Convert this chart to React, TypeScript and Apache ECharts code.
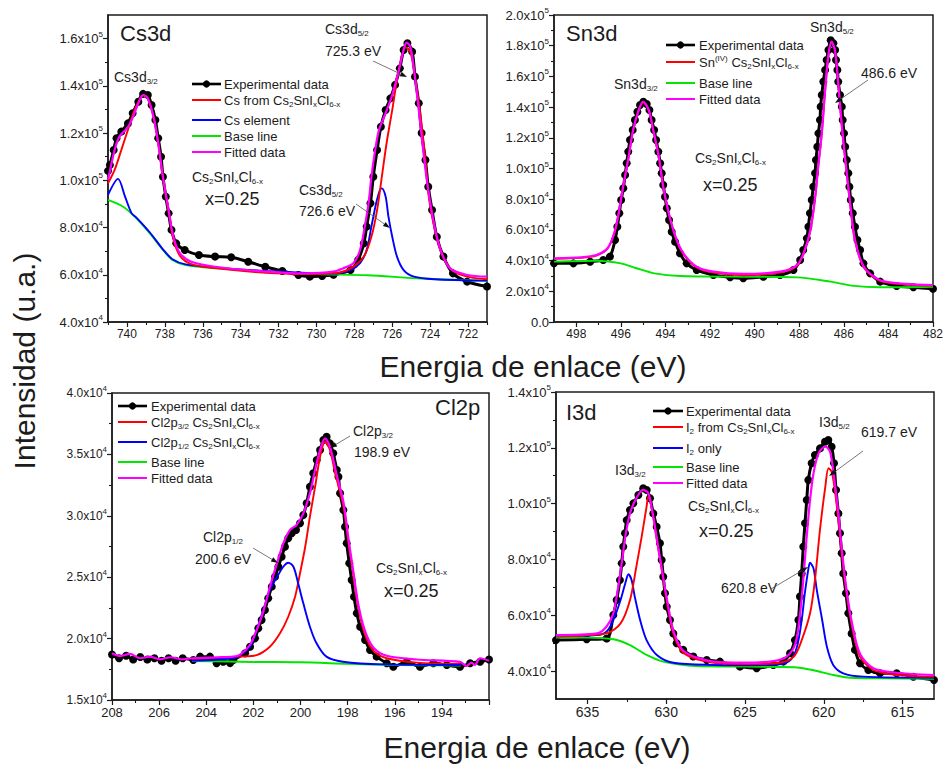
import React, { useEffect, useRef } from 'react';
import * as echarts from 'echarts';

const F = "'Liberation Sans', Arial, Helvetica, sans-serif";
const INK = '#1c1c1c';
const RED = '#ff0000';
const BLUE = '#0000ff';
const GREEN = '#00e600';
const MAG = '#ff00ff';

// ---------------- Cs3d ----------------
const csExp = [[741.0, 1.04e5], [740.9, 1.065e5], [740.7, 1.128e5], [740.55, 1.178e5], [740.3, 1.206e5], [739.95, 1.241e5], [739.7, 1.284e5], [739.4, 1.333e5], [739.15, 1.366e5], [738.9, 1.361e5], [738.7, 1.319e5], [738.5, 1.255e5], [738.35, 1.178e5], [738.2, 1.1e5], [738.1, 1.015e5], [737.95, 9.31e4], [737.8, 8.6e4], [737.65, 7.9e4], [737.4, 7.33e4], [736.95, 7.05e4], [736.2, 6.84e4], [735.35, 6.77e4], [734.5, 6.74e4], [733.6, 6.55e4], [732.7, 6.34e4], [731.8, 6.16e4], [730.95, 5.99e4], [730.35, 5.92e4], [729.7, 5.95e4], [729.1, 6.0e4], [728.2, 6.2e4], [727.8, 6.63e4], [727.5, 7.33e4], [727.35, 8.04e4], [727.15, 9.03e4], [727.0, 1.015e5], [726.8, 1.128e5], [726.6, 1.227e5], [726.35, 1.298e5], [726.1, 1.347e5], [725.85, 1.404e5], [725.6, 1.474e5], [725.4, 1.552e5], [725.2, 1.58e5], [724.95, 1.545e5], [724.8, 1.439e5], [724.6, 1.326e5], [724.45, 1.2e5], [724.25, 1.086e5], [724.1, 9.73e4], [723.9, 8.74e4], [723.65, 7.61e4], [723.3, 6.77e4], [722.8, 6.06e4], [722.05, 5.71e4], [721.0, 5.5e4]];
const csRed = [[741.0, 9.87e4], [740.65, 1.044e5], [740.3, 1.128e5], [739.95, 1.213e5], [739.6, 1.298e5], [739.25, 1.354e5], [739.1, 1.36e5], [738.9, 1.345e5], [738.6, 1.268e5], [738.35, 1.155e5], [738.1, 1.01e5], [737.8, 8.65e4], [737.55, 7.5e4], [737.2, 6.8e4], [736.6, 6.45e4], [735.35, 6.28e4], [733.25, 6.12e4], [730.6, 6.03e4], [729.1, 6.06e4], [728.2, 6.27e4], [727.5, 6.77e4], [727.1, 7.61e4], [726.8, 8.74e4], [726.55, 1.015e5], [726.3, 1.157e5], [726.0, 1.298e5], [725.75, 1.425e5], [725.5, 1.524e5], [725.3, 1.563e5], [725.05, 1.545e5], [724.8, 1.439e5], [724.5, 1.27e5], [724.25, 1.086e5], [724.05, 9.17e4], [723.75, 7.9e4], [723.4, 6.91e4], [722.85, 6.2e4], [722.05, 5.92e4], [721.0, 5.81e4]];
const csBlue = [[741.0, 9.38e4], [740.47, 1.006e5], [740.1, 9.31e4], [739.75, 8.6e4], [739.5, 8.42e4], [738.8, 7.8e4], [738.1, 7.08e4], [737.6, 6.66e4], [736.9, 6.44e4], [735.3, 6.3e4], [732.6, 6.16e4], [730.0, 6.06e4], [729.1, 6.05e4], [728.2, 6.2e4], [727.7, 6.49e4], [727.35, 7.05e4], [727.1, 8.04e4], [726.85, 9.03e4], [726.65, 9.59e4], [726.55, 9.66e4], [726.35, 9.31e4], [726.2, 8.46e4], [726.0, 7.61e4], [725.75, 6.77e4], [725.4, 6.2e4], [724.85, 5.92e4], [723.8, 5.81e4], [721.0, 5.75e4]];
const csBase = [[741.0, 9.17e4], [740.2, 8.88e4], [739.5, 8.39e4], [738.8, 7.76e4], [738.1, 7.05e4], [737.6, 6.63e4], [736.9, 6.41e4], [735.3, 6.27e4], [732.6, 6.13e4], [730.0, 6.03e4], [727.3, 5.98e4], [724.7, 5.85e4], [721.4, 5.75e4], [721.0, 5.74e4]];
const csFit = [[741.0, 1.0e5], [740.65, 1.128e5], [740.4, 1.185e5], [740.0, 1.22e5], [739.75, 1.255e5], [739.4, 1.326e5], [739.15, 1.361e5], [738.9, 1.347e5], [738.6, 1.27e5], [738.35, 1.157e5], [738.1, 1.015e5], [737.8, 8.74e4], [737.55, 7.61e4], [737.2, 6.91e4], [736.6, 6.55e4], [735.35, 6.34e4], [733.25, 6.17e4], [730.6, 6.06e4], [729.1, 6.13e4], [728.6, 6.27e4], [728.05, 6.49e4], [727.7, 7.05e4], [727.45, 8.04e4], [727.25, 9.03e4], [727.1, 1.015e5], [726.9, 1.128e5], [726.7, 1.213e5], [726.35, 1.284e5], [726.0, 1.361e5], [725.65, 1.467e5], [725.4, 1.552e5], [725.25, 1.583e5], [725.05, 1.566e5], [724.85, 1.467e5], [724.6, 1.298e5], [724.35, 1.114e5], [724.1, 9.59e4], [723.8, 8.18e4], [723.45, 7.05e4], [722.95, 6.27e4], [722.05, 5.99e4], [721.0, 5.92e4]];

// ---------------- Sn3d ----------------
const snExp = [[499, 3.82e4], [498.13, 3.82e4], [497.38, 3.93e4], [496.79, 4.04e4], [496.49, 4.26e4], [496.26, 5.34e4], [496.16, 6.21e4], [496.07, 7.08e4], [495.99, 7.95e4], [495.89, 8.71e4], [495.81, 9.58e4], [495.74, 1.034e5], [495.67, 1.11e5], [495.59, 1.186e5], [495.47, 1.251e5], [495.37, 1.316e5], [495.26, 1.37e5], [495.14, 1.414e5], [494.99, 1.435e5], [494.84, 1.42e5], [494.72, 1.381e5], [494.62, 1.316e5], [494.51, 1.251e5], [494.42, 1.186e5], [494.32, 1.11e5], [494.24, 1.034e5], [494.17, 9.69e4], [494.1, 8.93e4], [494.02, 8.16e4], [493.94, 7.41e4], [493.84, 6.65e4], [493.72, 5.88e4], [493.57, 5.23e4], [493.35, 4.48e4], [493.05, 3.82e4], [492.6, 3.39e4], [491.85, 3.06e4], [491.1, 2.91e4], [490.51, 2.85e4], [489.61, 2.95e4], [488.86, 3.06e4], [488.26, 3.39e4], [487.96, 4.04e4], [487.82, 4.69e4], [487.66, 5.45e4], [487.59, 6.21e4], [487.52, 7.08e4], [487.44, 7.95e4], [487.37, 8.81e4], [487.29, 9.69e4], [487.25, 1.055e5], [487.19, 1.142e5], [487.14, 1.229e5], [487.07, 1.316e5], [487.04, 1.403e5], [486.99, 1.479e5], [486.92, 1.566e5], [486.84, 1.642e5], [486.77, 1.707e5], [486.69, 1.772e5], [486.59, 1.836e5], [486.47, 1.816e5], [486.39, 1.772e5], [486.35, 1.707e5], [486.29, 1.642e5], [486.25, 1.566e5], [486.17, 1.479e5], [486.09, 1.403e5], [486.05, 1.316e5], [485.99, 1.229e5], [485.94, 1.142e5], [485.87, 1.055e5], [485.8, 9.69e4], [485.75, 8.81e4], [485.69, 7.95e4], [485.6, 7.08e4], [485.5, 6.21e4], [485.39, 5.34e4], [485.27, 4.69e4], [485.12, 3.82e4], [484.82, 3.17e4], [484.37, 2.63e4], [483.63, 2.35e4], [482.88, 2.26e4], [482.0, 2.17e4]];
const snRed = [[499, 4.12e4], [497.8, 4.18e4], [497.1, 4.33e4], [496.6, 4.78e4], [496.3, 5.76e4], [496.1, 7.06e4], [495.9, 8.8e4], [495.65, 1.076e5], [495.45, 1.25e5], [495.2, 1.38e5], [495.0, 1.432e5], [494.75, 1.379e5], [494.55, 1.249e5], [494.3, 1.075e5], [494.1, 8.79e4], [493.85, 7.05e4], [493.55, 5.52e4], [493.2, 4.43e4], [492.6, 3.55e4], [491.85, 3.22e4], [490.5, 3.05e4], [488.85, 3.22e4], [488.1, 3.66e4], [487.75, 4.65e4], [487.5, 5.96e4], [487.3, 7.92e4], [487.15, 1.01e5], [486.99, 1.227e5], [486.85, 1.488e5], [486.7, 1.725e5], [486.55, 1.822e5], [486.4, 1.768e5], [486.25, 1.552e5], [486.1, 1.29e5], [485.9, 1.008e5], [485.7, 7.47e4], [485.5, 5.3e4], [485.1, 3.55e4], [484.4, 2.7e4], [483.2, 2.44e4], [482, 2.37e4]];
const snBase = [[499, 3.93e4], [497.1, 3.99e4], [496.0, 3.82e4], [495.3, 3.5e4], [494.5, 3.17e4], [493.35, 3.0e4], [490.35, 2.95e4], [488.1, 2.91e4], [486.6, 2.63e4], [485.55, 2.35e4], [484.4, 2.26e4], [482, 2.3e4]];
const snFit = [[499, 4.15e4], [497.8, 4.21e4], [497.1, 4.36e4], [496.6, 4.8e4], [496.3, 5.78e4], [496.1, 7.08e4], [495.9, 8.81e4], [495.65, 1.077e5], [495.45, 1.251e5], [495.2, 1.381e5], [495.0, 1.435e5], [494.75, 1.381e5], [494.55, 1.251e5], [494.3, 1.077e5], [494.1, 8.81e4], [493.85, 7.08e4], [493.55, 5.56e4], [493.2, 4.48e4], [492.6, 3.6e4], [491.85, 3.28e4], [490.5, 3.13e4], [488.85, 3.28e4], [488.1, 3.71e4], [487.75, 4.69e4], [487.5, 5.99e4], [487.3, 7.95e4], [487.15, 1.012e5], [486.99, 1.229e5], [486.85, 1.49e5], [486.7, 1.728e5], [486.55, 1.826e5], [486.4, 1.772e5], [486.25, 1.555e5], [486.1, 1.294e5], [485.9, 1.012e5], [485.7, 7.51e4], [485.5, 5.34e4], [485.1, 3.6e4], [484.4, 2.74e4], [483.2, 2.48e4], [482, 2.41e4]];

// ---------------- Cl2p ----------------
const clExp = [[208, 1.87e4], [207.7, 1.84e4], [207.4, 1.86e4], [207.1, 1.83e4], [206.8, 1.85e4], [206.5, 1.83e4], [206.2, 1.84e4], [205.9, 1.82e4], [205.6, 1.84e4], [205.3, 1.82e4], [205.0, 1.84e4], [204.55, 1.826e4], [204.26, 1.853e4], [203.84, 1.853e4], [203.56, 1.799e4], [203.28, 1.812e4], [202.99, 1.8e4], [202.85, 1.826e4], [202.35, 1.88e4], [202.14, 1.934e4], [201.93, 2.002e4], [201.79, 2.084e4], [201.65, 2.151e4], [201.51, 2.233e4], [201.37, 2.328e4], [201.22, 2.423e4], [201.08, 2.504e4], [200.94, 2.585e4], [200.8, 2.667e4], [200.66, 2.748e4], [200.52, 2.817e4], [200.37, 2.857e4], [200.19, 2.884e4], [200.02, 2.939e4], [199.88, 3.006e4], [199.74, 3.102e4], [199.6, 3.237e4], [199.46, 3.346e4], [199.31, 3.454e4], [199.17, 3.536e4], [199.03, 3.617e4], [198.89, 3.644e4], [198.75, 3.59e4], [198.61, 3.509e4], [198.46, 3.373e4], [198.39, 3.318e4], [198.32, 3.183e4], [198.18, 3.047e4], [198.11, 2.911e4], [198.04, 2.776e4], [197.93, 2.613e4], [197.83, 2.477e4], [197.73, 2.341e4], [197.61, 2.206e4], [197.47, 2.097e4], [197.26, 1.989e4], [197.05, 1.907e4], [196.77, 1.853e4], [196.34, 1.799e4], [196.06, 1.771e4], [195.49, 1.812e4], [194.93, 1.771e4], [194.36, 1.799e4], [193.79, 1.785e4], [193.23, 1.771e4], [192.8, 1.799e4], [192.38, 1.812e4], [192.0, 1.83e4]];
const clRed = [[204.6, 1.83e4], [203.5, 1.838e4], [202.56, 1.853e4], [201.86, 1.866e4], [201.3, 1.934e4], [200.87, 2.043e4], [200.52, 2.178e4], [200.23, 2.341e4], [200.02, 2.532e4], [199.8, 2.748e4], [199.6, 2.993e4], [199.38, 3.237e4], [199.17, 3.481e4], [198.96, 3.603e4], [198.75, 3.536e4], [198.53, 3.346e4], [198.18, 3.08e4], [197.97, 2.79e4], [197.76, 2.52e4], [197.55, 2.25e4], [197.26, 2.03e4], [196.9, 1.9e4], [196.34, 1.84e4], [195.07, 1.804e4], [193.23, 1.793e4]];
const clBlue = [[204.6, 1.82e4], [202.85, 1.84e4], [202.56, 1.866e4], [202.14, 1.934e4], [201.86, 2.07e4], [201.58, 2.233e4], [201.3, 2.396e4], [201.0, 2.5e4], [200.73, 2.585e4], [200.52, 2.618e4], [200.3, 2.585e4], [200.1, 2.45e4], [199.88, 2.287e4], [199.6, 2.097e4], [199.32, 1.962e4], [198.9, 1.853e4], [198.2, 1.812e4], [196.5, 1.79e4], [193.2, 1.785e4]];
const clBase = [[204.6, 1.818e4], [202, 1.81e4], [200, 1.807e4], [198, 1.795e4], [196, 1.785e4], [193.2, 1.78e4]];
const clFit = [[208, 1.88e4], [207.66, 1.858e4], [207.24, 1.875e4], [206.8, 1.84e4], [206.4, 1.853e4], [205.96, 1.831e4], [205.5, 1.848e4], [205.05, 1.831e4], [204.6, 1.84e4], [203.56, 1.848e4], [202.85, 1.853e4], [202.56, 1.87e4], [202.14, 1.95e4], [201.86, 2.07e4], [201.58, 2.22e4], [201.3, 2.42e4], [201.0, 2.613e4], [200.73, 2.776e4], [200.45, 2.884e4], [200.17, 2.925e4], [199.88, 3.02e4], [199.6, 3.183e4], [199.38, 3.373e4], [199.17, 3.536e4], [198.96, 3.631e4], [198.75, 3.563e4], [198.46, 3.33e4], [198.18, 3.115e4], [197.97, 2.82e4], [197.76, 2.55e4], [197.55, 2.28e4], [197.26, 2.06e4], [196.9, 1.925e4], [196.34, 1.86e4], [195.07, 1.83e4], [193.23, 1.81e4], [192.95, 1.777e4], [192.74, 1.804e4], [192.6, 1.785e4], [192.38, 1.84e4], [192.0, 1.82e4]];

// ---------------- I3d ----------------
const iExp = [[637, 5.11e4], [635.05, 5.14e4], [633.78, 5.17e4], [633.36, 6.01e4], [633.15, 6.55e4], [632.94, 7.26e4], [632.83, 7.86e4], [632.73, 8.46e4], [632.62, 8.94e4], [632.51, 9.41e4], [632.3, 9.77e4], [632.09, 1.001e5], [631.77, 1.031e5], [631.46, 1.055e5], [631.24, 1.049e5], [631.03, 1.019e5], [630.82, 9.65e4], [630.61, 9.17e4], [630.4, 8.58e4], [630.29, 7.98e4], [630.19, 7.38e4], [630.08, 6.79e4], [629.97, 6.31e4], [629.76, 5.83e4], [629.55, 5.35e4], [629.34, 5.0e4], [628.92, 4.76e4], [628.28, 4.52e4], [627.43, 4.4e4], [626.59, 4.34e4], [625.32, 4.16e4], [624.26, 4.1e4], [623.2, 4.22e4], [622.57, 4.34e4], [622.14, 4.64e4], [621.83, 5.11e4], [621.61, 5.83e4], [621.51, 6.67e4], [621.4, 7.5e4], [621.3, 8.46e4], [621.19, 9.3e4], [621.08, 1.013e5], [620.98, 1.085e5], [620.77, 1.145e5], [620.56, 1.174e5], [620.24, 1.198e5], [619.92, 1.222e5], [619.71, 1.228e5], [619.5, 1.204e5], [619.35, 1.145e5], [619.22, 1.049e5], [619.07, 9.65e4], [618.97, 8.94e4], [618.86, 8.22e4], [618.76, 7.5e4], [618.59, 6.79e4], [618.44, 6.07e4], [618.23, 5.35e4], [618.02, 4.76e4], [617.7, 4.28e4], [617.17, 4.04e4], [616.43, 3.92e4], [615.37, 3.92e4], [614.31, 3.8e4], [613, 3.68e4]];
const iRed = [[637, 5.25e4], [633.8, 5.35e4], [632.9, 5.71e4], [632.3, 6.55e4], [631.9, 7.74e4], [631.56, 8.82e4], [631.25, 9.89e4], [631.14, 1.025e5], [630.9, 9.77e4], [630.6, 8.7e4], [630.25, 7.5e4], [629.9, 6.31e4], [629.55, 5.35e4], [628.9, 4.64e4], [627.0, 4.3e4], [624.9, 4.25e4], [622.8, 4.3e4], [621.9, 4.52e4], [621.4, 5.11e4], [620.87, 6.07e4], [620.56, 7.26e4], [620.24, 9.06e4], [619.9, 1.061e5], [619.7, 1.127e5], [619.5, 1.114e5], [619.3, 1.049e5], [619.07, 9.41e4], [618.86, 8.22e4], [618.55, 6.79e4], [618.2, 5.59e4], [617.7, 4.52e4], [616.85, 4.04e4], [615.4, 3.86e4], [613, 3.8e4]];
const iBlue = [[637, 5.25e4], [634.4, 5.29e4], [633.8, 5.41e4], [633.36, 5.83e4], [632.9, 6.55e4], [632.6, 7.15e4], [632.4, 7.47e4], [632.2, 7.26e4], [632.0, 6.67e4], [631.66, 5.83e4], [631.25, 5.11e4], [630.6, 4.58e4], [629.55, 4.3e4], [627.0, 4.22e4], [624.9, 4.21e4], [622.8, 4.24e4], [622.1, 4.4e4], [621.7, 4.87e4], [621.4, 5.83e4], [621.2, 6.79e4], [620.97, 7.68e4], [620.87, 7.88e4], [620.65, 7.68e4], [620.44, 6.9e4], [620.1, 5.83e4], [619.8, 4.87e4], [619.4, 4.22e4], [618.76, 3.92e4], [617.5, 3.8e4], [613, 3.76e4]];
const iBase = [[637, 5.2e4], [635.05, 5.2e4], [633.36, 5.14e4], [632.3, 4.93e4], [631.25, 4.58e4], [630.2, 4.34e4], [628.1, 4.18e4], [624.9, 4.16e4], [621.9, 4.14e4], [620.7, 4.04e4], [619.4, 3.86e4], [618.3, 3.76e4], [616.4, 3.74e4], [613, 3.72e4]];
const iFit = [[637, 5.29e4], [634.4, 5.35e4], [633.8, 5.59e4], [633.36, 6.07e4], [633.05, 7.02e4], [632.8, 7.98e4], [632.6, 8.82e4], [632.3, 9.65e4], [631.9, 1.019e5], [631.47, 1.049e5], [631.14, 1.037e5], [630.9, 9.77e4], [630.6, 8.75e4], [630.25, 7.55e4], [629.9, 6.4e4], [629.55, 5.45e4], [628.9, 4.72e4], [627.0, 4.34e4], [625.1, 4.3e4], [623.2, 4.36e4], [622.35, 4.52e4], [621.8, 4.99e4], [621.5, 6.07e4], [621.3, 7.26e4], [621.1, 8.7e4], [620.87, 1.013e5], [620.65, 1.109e5], [620.33, 1.18e5], [619.9, 1.204e5], [619.6, 1.186e5], [619.35, 1.096e5], [619.07, 9.65e4], [618.86, 8.4e4], [618.55, 6.9e4], [618.2, 5.7e4], [617.7, 4.62e4], [616.85, 4.1e4], [615.4, 3.94e4], [613, 3.86e4]];

// ---------------- ticks ----------------
const csXMajor = [722, 724, 726, 728, 730, 732, 734, 736, 738, 740];
const csXMinor = [721, 723, 725, 727, 729, 731, 733, 735, 737, 739, 741];
const csYMajor = [4e4, 6e4, 8e4, 1e5, 1.2e5, 1.4e5, 1.6e5];
const csYMinor = [5e4, 7e4, 9e4, 1.1e5, 1.3e5, 1.5e5];
const snXMajor = [482, 484, 486, 488, 490, 492, 494, 496, 498];
const snXMinor = [483, 485, 487, 489, 491, 493, 495, 497];
const snYMajor = [0, 2e4, 4e4, 6e4, 8e4, 1e5, 1.2e5, 1.4e5, 1.6e5, 1.8e5, 2e5];
const snYMinor = [1e4, 3e4, 5e4, 7e4, 9e4, 1.1e5, 1.3e5, 1.5e5, 1.7e5, 1.9e5];
const clXLabels = [194, 196, 198, 200, 202, 204, 206, 208];
const clXMajor = [192, 194, 196, 198, 200, 202, 204, 206, 208];
const clXMinor = [193, 195, 197, 199, 201, 203, 205, 207];
const clYMajor = [1.5e4, 2e4, 2.5e4, 3e4, 3.5e4, 4e4];
const clYMinor = [1.75e4, 2.25e4, 2.75e4, 3.25e4, 3.75e4];
const iXMajor = [615, 620, 625, 630, 635];
const iXMinor = [617.5, 622.5, 627.5, 632.5];
const iYMajor = [4e4, 6e4, 8e4, 1e5, 1.2e5, 1.4e5];
const iYMinor = [5e4, 7e4, 9e4, 1.1e5, 1.3e5];

function sci(v: number): string {
  if (v === 0) return '{m|0.0}';
  const e = Math.floor(Math.log10(v) + 1e-9);
  const m = (v / Math.pow(10, e)).toFixed(1);
  return `{m|${m}x10}{e|${e}}`;
}

function rich(size: number) {
  const small = Math.round(size * 0.6);
  const sh = Math.round(size * 0.6);
  return {
    s: { fontSize: small, fontFamily: F, fill: INK, padding: [sh, 0, 0, 0] },
    p: { fontSize: small, fontFamily: F, fill: INK, padding: [0, 0, sh, 0] },
  };
}
function txt(x: number, y: number, text: string, size: number, align = 'left') {
  return {
    type: 'text', x, y, z: 100, silent: true,
    style: { text, fontSize: size, fontFamily: F, fill: INK, align, verticalAlign: 'middle', rich: rich(size) },
  };
}
function arrow(x1: number, y1: number, x2: number, y2: number) {
  const dx = x2 - x1, dy = y2 - y1, L = Math.hypot(dx, dy);
  const ux = dx / L, uy = dy / L, hl = 7, hw = 2.4;
  const bx = x2 - ux * hl, by = y2 - uy * hl;
  return [
    { type: 'line', z: 100, silent: true, shape: { x1, y1, x2: bx, y2: by }, style: { stroke: '#555', lineWidth: 0.8 } },
    { type: 'polygon', z: 100, silent: true, shape: { points: [[x2, y2], [bx - uy * hw, by + ux * hw], [bx + uy * hw, by - ux * hw]] }, style: { fill: '#111' } },
  ];
}
type Row = { y: number; color: string; text: string; dot?: boolean };
function legend(x1: number, x2: number, tx: number, rows: Row[]) {
  const out: any[] = [];
  rows.forEach((r) => {
    out.push({ type: 'line', z: 100, silent: true, shape: { x1, y1: r.y, x2, y2: r.y }, style: { stroke: r.color, lineWidth: r.dot ? 2.6 : 2 } });
    if (r.dot) out.push({ type: 'circle', z: 101, silent: true, shape: { cx: (x1 + x2) / 2, cy: r.y, r: 3.6 }, style: { fill: '#000' } });
    out.push(txt(tx, r.y, r.text, 13));
  });
  return out;
}
const CMP = 'Cs{s|2}SnI{s|x}Cl{s|6-x}';

type AxisSpec = { min: number; max: number; major: number[]; minor: number[]; labels?: number[] };
type Panel = { grid: any; x: AxisSpec; y: AxisSpec; xFont: number; yFont: number; series: any[] };

function makeOption() {
  const panels: Panel[] = [
    { grid: { left: 108, top: 15, width: 379, height: 307 }, xFont: 12, yFont: 13,
      x: { min: 721, max: 741, major: csXMajor, minor: csXMinor },
      y: { min: 4e4, max: 1.7e5, major: csYMajor, minor: csYMinor },
      series: [['exp', csExp], ['c', csBase, GREEN], ['c', csBlue, BLUE], ['c', csRed, RED], ['c', csFit, MAG]] },
    { grid: { left: 554, top: 15, width: 379, height: 307 }, xFont: 12, yFont: 13,
      x: { min: 482, max: 499, major: snXMajor, minor: snXMinor },
      y: { min: 0, max: 2e5, major: snYMajor, minor: snYMinor },
      series: [['exp', snExp], ['c', snBase, GREEN], ['c', snRed, RED], ['c', snFit, MAG]] },
    { grid: { left: 112, top: 393, width: 377, height: 307 }, xFont: 13, yFont: 12,
      x: { min: 192, max: 208, major: clXMajor, minor: clXMinor, labels: clXLabels },
      y: { min: 1.5e4, max: 4e4, major: clYMajor, minor: clYMinor },
      series: [['exp', clExp], ['c', clBase, GREEN], ['c', clRed, RED], ['c', clBlue, BLUE], ['c', clFit, MAG]] },
    { grid: { left: 556, top: 392, width: 378, height: 307 }, xFont: 14, yFont: 13,
      x: { min: 613, max: 637, major: iXMajor, minor: iXMinor },
      y: { min: 3e4, max: 1.4e5, major: iYMajor, minor: iYMinor },
      series: [['exp', iExp], ['c', iBase, GREEN], ['c', iBlue, BLUE], ['c', iRed, RED], ['c', iFit, MAG]] },
  ];

  const grids: any[] = [], xAxes: any[] = [], yAxes: any[] = [], series: any[] = [];
  const axLine = { color: INK, width: 1.5 };
  panels.forEach((p, i) => {
    grids.push({ ...p.grid, show: true, borderColor: INK, borderWidth: 1.5, containLabel: false, outerBoundsMode: 'none' });
    xAxes.push({
      type: 'value', gridIndex: i, min: p.x.min, max: p.x.max, inverse: true, position: 'bottom',
      axisLine: { show: true, onZero: false, lineStyle: axLine },
      axisTick: { show: true, length: 5, customValues: p.x.major, lineStyle: { color: INK, width: 1.2 } },
      axisLabel: { show: true, customValues: p.x.labels || p.x.major, color: INK, fontSize: p.xFont, fontFamily: F, margin: 6 },
      splitLine: { show: false },
    });
    xAxes.push({
      type: 'value', gridIndex: i, min: p.x.min, max: p.x.max, inverse: true, position: 'bottom',
      axisLine: { show: false, onZero: false },
      axisTick: { show: true, length: 3, customValues: p.x.minor, lineStyle: { color: INK, width: 1.1 } },
      axisLabel: { show: false }, splitLine: { show: false },
    });
    yAxes.push({
      type: 'value', gridIndex: i, min: p.y.min, max: p.y.max, position: 'left',
      axisLine: { show: true, onZero: false, lineStyle: axLine },
      axisTick: { show: true, length: 5, customValues: p.y.major, lineStyle: { color: INK, width: 1.2 } },
      axisLabel: {
        show: true, customValues: p.y.major, margin: 5, formatter: (v: number) => sci(v),
        rich: {
          m: { fontSize: p.yFont, fontFamily: F, color: INK },
          e: { fontSize: 8, fontFamily: F, color: INK, padding: [0, 0, 9, 0] },
        },
      },
      splitLine: { show: false },
    });
    yAxes.push({
      type: 'value', gridIndex: i, min: p.y.min, max: p.y.max, position: 'left',
      axisLine: { show: false, onZero: false },
      axisTick: { show: true, length: 3, customValues: p.y.minor, lineStyle: { color: INK, width: 1.1 } },
      axisLabel: { show: false }, splitLine: { show: false },
    });
    p.series.forEach((s: any) => {
      const base = { type: 'line', xAxisIndex: i * 2, yAxisIndex: i * 2, silent: true, animation: false, clip: true, emphasis: { disabled: true } };
      if (s[0] === 'exp') {
        series.push({ ...base, data: s[1], smooth: 0.3, symbol: 'circle', symbolSize: 8, showSymbol: true, showAllSymbol: true,
          lineStyle: { color: '#000', width: 3 }, itemStyle: { color: '#000', borderWidth: 0 }, z: 2 });
      } else {
        series.push({ ...base, data: s[1], smooth: 0.3, symbol: 'none', showSymbol: false,
          lineStyle: { color: s[2], width: s[2] === MAG ? 2.2 : 1.9 }, itemStyle: { color: s[2] }, z: 3 });
      }
    });
  });

  const graphics: any[] = [
    // global titles
    txt(533, 366, 'Energia de enlace (eV)', 30, 'center'),
    txt(537, 747, 'Energia de enlace (eV)', 30, 'center'),
    { type: 'text', x: 24, y: 361, rotation: Math.PI / 2, z: 100, silent: true,
      style: { text: 'Intensidad (u.a.)', fontSize: 30, fontFamily: F, fill: INK, align: 'center', verticalAlign: 'middle' } },
    // Cs3d
    txt(120, 33, 'Cs3d', 22),
    txt(114, 77, 'Cs3d{s|3/2}', 14),
    txt(325, 29, 'Cs3d{s|5/2}', 14),
    txt(325, 51, '725.3 eV', 14),
    ...arrow(373, 61, 407, 77),
    txt(299, 190, 'Cs3d{s|5/2}', 14),
    txt(299, 211, '726.6 eV', 14),
    ...arrow(356, 204, 390, 228),
    txt(192, 177, CMP, 14),
    txt(205, 199, 'x=0.25', 18),
    ...legend(192, 221, 224, [
      { y: 84, color: '#000', text: 'Experimental data', dot: true },
      { y: 100, color: RED, text: 'Cs from ' + CMP },
      { y: 120, color: BLUE, text: 'Cs element' },
      { y: 136, color: GREEN, text: 'Base line' },
      { y: 152, color: MAG, text: 'Fitted data' },
    ]),
    // Sn3d
    txt(566, 33, 'Sn3d', 22),
    txt(614, 84, 'Sn3d{s|3/2}', 14),
    txt(810, 27, 'Sn3d{s|5/2}', 14),
    txt(861, 73, '486.6 eV', 14),
    ...arrow(868, 80, 835, 103),
    txt(695, 158, CMP, 14),
    txt(703, 185, 'x=0.25', 18),
    ...legend(666, 695, 699, [
      { y: 45, color: '#000', text: 'Experimental data', dot: true },
      { y: 62, color: RED, text: 'Sn{p|(IV)} ' + CMP },
      { y: 83, color: GREEN, text: 'Base line' },
      { y: 99, color: MAG, text: 'Fitted data' },
    ]),
    // Cl2p
    txt(435, 407, 'Cl2p', 22),
    txt(353, 431, 'Cl2p{s|3/2}', 14),
    txt(354, 452, '198.9 eV', 14),
    ...arrow(350, 436, 330, 448),
    txt(203, 537, 'Cl2p{s|1/2}', 14),
    txt(195, 559, '200.6 eV', 14),
    ...arrow(253, 548, 278, 563),
    txt(376, 568, CMP, 14),
    txt(384, 591, 'x=0.25', 18),
    ...legend(118, 147, 151, [
      { y: 406, color: '#000', text: 'Experimental data', dot: true },
      { y: 422, color: RED, text: 'Cl2p{s|3/2} ' + CMP },
      { y: 442, color: BLUE, text: 'Cl2p{s|1/2} ' + CMP },
      { y: 462, color: GREEN, text: 'Base line' },
      { y: 478, color: MAG, text: 'Fitted data' },
    ]),
    // I3d
    txt(566, 412, 'I3d', 22),
    txt(615, 470, 'I3d{s|3/2}', 14),
    txt(819, 422, 'I3d{s|5/2}', 14),
    txt(861, 432, '619.7 eV', 14),
    ...arrow(863, 451, 829, 476),
    txt(721, 588, '620.8 eV', 14),
    ...arrow(771, 589, 808, 567),
    txt(688, 506, CMP, 14),
    txt(699, 531, 'x=0.25', 18),
    ...legend(653, 683, 686, [
      { y: 411, color: '#000', text: 'Experimental data', dot: true },
      { y: 427, color: RED, text: 'I{s|2} from ' + CMP },
      { y: 448, color: BLUE, text: 'I{s|2} only' },
      { y: 467, color: GREEN, text: 'Base line' },
      { y: 483, color: MAG, text: 'Fitted data' },
    ]),
  ];

  return {
    animation: false,
    backgroundColor: '#ffffff',
    textStyle: { fontFamily: F },
    grid: grids,
    xAxis: xAxes,
    yAxis: yAxes,
    series,
    graphic: { elements: graphics },
  };
}

export default function App() {
  const ref = useRef<HTMLDivElement>(null);
  useEffect(() => {
    if (!ref.current) return;
    const chart = echarts.init(ref.current, undefined, { renderer: 'svg' });
    chart.setOption(makeOption() as any);
    return () => chart.dispose();
  }, []);
  return <div ref={ref} style={{ position: 'absolute', left: 0, top: 0, width: 948, height: 764 }} />;
}
